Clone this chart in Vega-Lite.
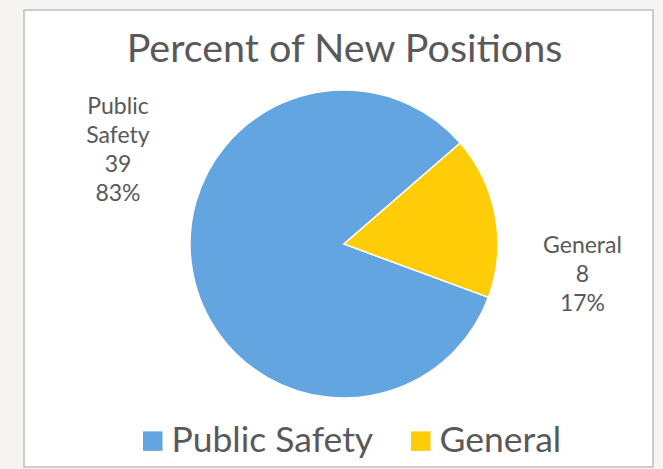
{
  "$schema": "https://vega.github.io/schema/vega-lite/v6.json",
  "autosize": "none",
  "width": 629,
  "height": 457,
  "padding": {"left": 24, "top": 10, "right": 10, "bottom": 2},
  "background": "#f5f4f2",
  "view": {"fill": "white", "stroke": "#bdbdbd", "strokeWidth": 1.5},
  "config": {"font": "Lato"},
  "title": {
    "text": "Percent of New Positions",
    "font": "Lato",
    "fontSize": 39.5,
    "fontWeight": "normal",
    "color": "#595959",
    "anchor": "middle",
    "dx": 6,
    "offset": -60
  },
  "data": {
    "values": [
      {"category": "Public Safety", "count": 39, "label": "Public\nSafety\n39\n83%"},
      {"category": "General", "count": 8, "label": "General\n8\n17%"}
    ]
  },
  "encoding": {
    "theta": {"field": "count", "type": "quantitative", "stack": true, "scale": {"range": [0.8552, 7.1384]}},
    "order": {"field": "count", "type": "quantitative", "sort": "ascending"},
    "color": {
      "field": "category",
      "type": "nominal",
      "scale": {"domain": ["Public Safety", "General"], "range": ["#62a5e0", "#ffcc08"]},
      "legend": {
        "title": null,
        "orient": "none",
        "direction": "horizontal",
        "legendX": 111,
        "legendY": 413,
        "symbolType": "square",
        "symbolSize": 380,
        "symbolStrokeWidth": 0,
        "labelFontSize": 35.5,
        "labelFont": "Lato",
        "labelColor": "#595959",
        "columnPadding": 29,
        "labelOffset": 1,
        "labelLimit": 400
      }
    }
  },
  "layer": [
    {
      "mark": {"type": "arc", "outerRadius": 154, "stroke": "white", "strokeWidth": 1.5, "x": {"expr": "width/2+5.5"}, "y": {"expr": "height/2+5.5"}}
    },
    {
      "transform": [{"filter": "datum.category === 'Public Safety'"}],
      "mark": {"type": "text", "radius": 0, "dx": -220.5, "dy": -131.5, "lineBreak": "\n", "fontSize": 23, "font": "Lato", "align": "center", "baseline": "middle", "lineHeight": 29},
      "encoding": {"text": {"field": "label"}, "color": {"value": "#595959"}}
    },
    {
      "transform": [{"filter": "datum.category === 'General'"}],
      "mark": {"type": "text", "radius": 0, "dx": 244, "dy": 7.5, "lineBreak": "\n", "fontSize": 23, "font": "Lato", "align": "center", "baseline": "middle", "lineHeight": 29},
      "encoding": {"text": {"field": "label"}, "color": {"value": "#595959"}}
    }
  ]
}
